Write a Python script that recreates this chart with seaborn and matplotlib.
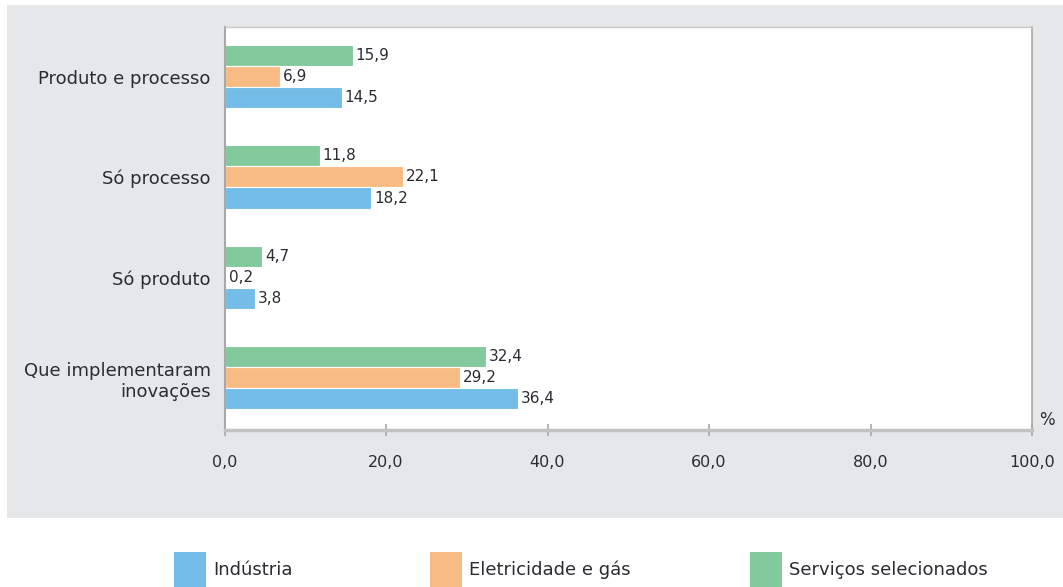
import numpy as np
import pandas as pd
import matplotlib
matplotlib.use("Agg")
import matplotlib.pyplot as plt
from matplotlib.patches import Rectangle
import seaborn as sns

# ---- data ----
categories = ["Produto e processo", "Só processo", "Só produto", "Que implementaram\ninovações"]
series_names = ["Indústria", "Eletricidade e gás", "Serviços selecionados"]
industria = [14.5, 18.2, 3.8, 36.4]
eletricidade = [6.9, 22.1, 0.2, 29.2]
servicos = [15.9, 11.8, 4.7, 32.4]
x_ticks = [0, 20, 40, 60, 80, 100]
x_tick_labels = ["0,0", "20,0", "40,0", "60,0", "80,0", "100,0"]
colors = {"Indústria": "#74BDE8", "Eletricidade e gás": "#F9BB84", "Serviços selecionados": "#82CA9B"}

df = pd.DataFrame({
    "categoria": categories * 3,
    "serie": [s for s in series_names for _ in categories],
    "valor": industria + eletricidade + servicos,
})

plt.rcParams["font.family"] = ["DejaVu Sans"]
TXT = "#2b2b33"
W, H = 1063, 587
fig = plt.figure(figsize=(W / 100, H / 100), dpi=100)
fig.patch.set_facecolor("white")

# gray panel
fig.patches.append(Rectangle((7 / W, 1 - 518 / H), 1, (518 - 5) / H, transform=fig.transFigure,
                             facecolor="#E6E7E9", edgecolor="none", zorder=-5))

left, right, top, bottom = 224.5, 1032, 27, 430
ax = fig.add_axes([left / W, 1 - bottom / H, (right - left) / W, (bottom - top) / H])
ax.set_zorder(1)
ax.set_facecolor("white")

plot_order = ["Serviços selecionados", "Eletricidade e gás", "Indústria"]
sns.barplot(data=df, y="categoria", x="valor", hue="serie", hue_order=plot_order, order=categories,
            palette=colors, width=0.63, orient="h", ax=ax, edgecolor="white", linewidth=0.8,
            errorbar=None, legend=False, saturation=1)

for cont in ax.containers:
    labels = [f"{v:.1f}".replace(".", ",") for v in cont.datavalues]
    ax.bar_label(cont, labels=labels, padding=2, fontsize=11, color=TXT)

ax.set_xlim(0, 100)
ax.set_ylim(3.52, -0.493)
ax.set_xticks(x_ticks)
ax.set_xticklabels(x_tick_labels)
ax.set_xlabel("")
ax.set_ylabel("")

ax.spines["bottom"].set_color("#C2C2C2")
ax.spines["bottom"].set_linewidth(2.5)
ax.spines["left"].set_color("#A8A8A8")
ax.spines["left"].set_linewidth(1.5)
ax.spines["top"].set_color("#C8C8C8")
ax.spines["top"].set_linewidth(1.0)
ax.spines["right"].set_color("#A8A8A8")
ax.spines["right"].set_linewidth(1.2)

ax.tick_params(axis="x", direction="inout", length=8, width=1.2, color="#A8A8A8", pad=14,
               labelsize=11.5, labelcolor=TXT)
ax.tick_params(axis="y", length=0, pad=10, labelsize=13, labelcolor=TXT)

ax.text(1 + (1047 - right) / (right - left), (bottom - 420) / (bottom - top), "%",
        transform=ax.transAxes, ha="center", va="center", fontsize=12, color=TXT)

# legend
leg_x = [174, 430, 750]
for name, x0 in zip(series_names, leg_x):
    fig.patches.append(Rectangle((x0 / W, 1 - 592 / H), 32 / W, 40 / H, transform=fig.transFigure,
                                 facecolor=colors[name], edgecolor="none"))
    fig.text((x0 + 39) / W, 1 - 575 / H, name, ha="left", va="baseline", fontsize=13, color=TXT)

fig.savefig("out.png", dpi=100, facecolor="white")
